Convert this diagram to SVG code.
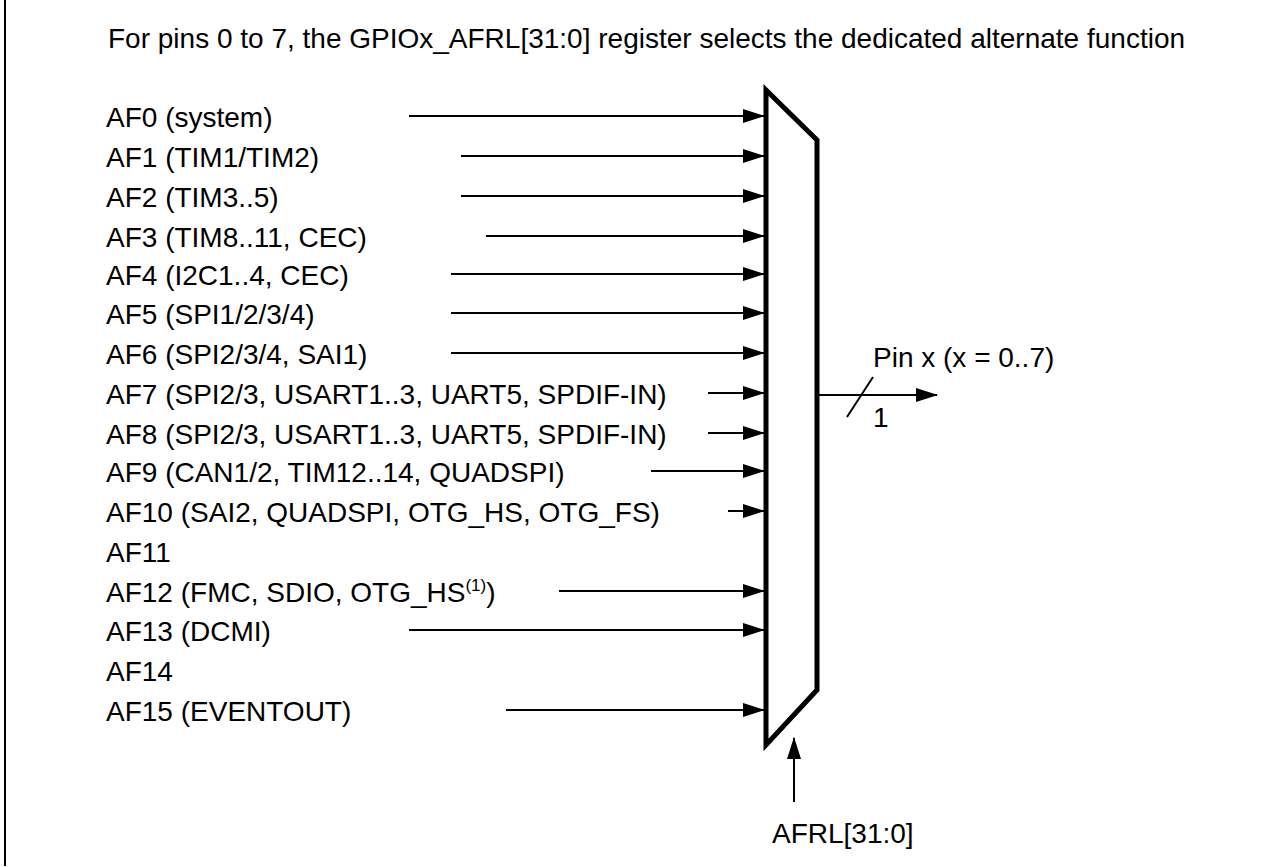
<svg xmlns="http://www.w3.org/2000/svg" width="1261" height="867" viewBox="0 0 1261 867">
<defs>
<marker id="ah" markerWidth="22" markerHeight="14" refX="21" refY="7" orient="auto" markerUnits="userSpaceOnUse"><path d="M0,0 L22,7 L0,14 Z" fill="#000"/></marker>
<style>
text{font-family:"Liberation Sans",Arial,sans-serif;font-size:28px;fill:#000}
.c{stroke:#000;stroke-width:2;fill:none}
</style>
</defs>
<rect width="1261" height="867" fill="#fff"/>
<line x1="5" y1="0" x2="5" y2="866" stroke="#000" stroke-width="2"/>
<text x="108" y="48">For pins 0 to 7, the GPIOx_AFRL[31:0] register selects the dedicated alternate function</text>
<g id="labels">
<text x="106" y="127">AF0 (system)</text>
<text x="106" y="167">AF1 (TIM1/TIM2)</text>
<text x="106" y="207">AF2 (TIM3..5)</text>
<text x="106" y="247">AF3 (TIM8..11, CEC)</text>
<text x="106" y="285">AF4 (I2C1..4, CEC)</text>
<text x="106" y="324">AF5 (SPI1/2/3/4)</text>
<text x="106" y="364">AF6 (SPI2/3/4, SAI1)</text>
<text x="106" y="404">AF7 (SPI2/3, USART1..3, UART5, SPDIF-IN)</text>
<text x="106" y="444">AF8 (SPI2/3, USART1..3, UART5, SPDIF-IN)</text>
<text x="106" y="482">AF9 (CAN1/2, TIM12..14, QUADSPI)</text>
<text x="106" y="522">AF10 (SAI2, QUADSPI, OTG_HS, OTG_FS)</text>
<text x="106" y="562">AF11</text>
<text x="106" y="602">AF12 (FMC, SDIO, OTG_HS<tspan font-size="17" dy="-11">(1)</tspan><tspan dy="11">)</tspan></text>
<text x="106" y="641">AF13 (DCMI)</text>
<text x="106" y="681">AF14</text>
<text x="106" y="721">AF15 (EVENTOUT)</text>
</g>
<g id="mux">
<path d="M766,90 L817,140 L817,690 L766,745 Z" fill="#fff" stroke="#000" stroke-width="5" stroke-linejoin="miter"/>
</g>
<g id="connectors">
<line class="c" x1="409" y1="116" x2="764" y2="116" marker-end="url(#ah)"/>
<line class="c" x1="461" y1="156" x2="764" y2="156" marker-end="url(#ah)"/>
<line class="c" x1="461" y1="196" x2="764" y2="196" marker-end="url(#ah)"/>
<line class="c" x1="486" y1="236" x2="764" y2="236" marker-end="url(#ah)"/>
<line class="c" x1="451" y1="274" x2="764" y2="274" marker-end="url(#ah)"/>
<line class="c" x1="451" y1="313" x2="764" y2="313" marker-end="url(#ah)"/>
<line class="c" x1="451" y1="353" x2="764" y2="353" marker-end="url(#ah)"/>
<line class="c" x1="708" y1="393" x2="764" y2="393" marker-end="url(#ah)"/>
<line class="c" x1="708" y1="433" x2="764" y2="433" marker-end="url(#ah)"/>
<line class="c" x1="651" y1="471" x2="764" y2="471" marker-end="url(#ah)"/>
<line class="c" x1="728" y1="511" x2="764" y2="511" marker-end="url(#ah)"/>
<line class="c" x1="559" y1="591" x2="764" y2="591" marker-end="url(#ah)"/>
<line class="c" x1="409" y1="630" x2="764" y2="630" marker-end="url(#ah)"/>
<line class="c" x1="506" y1="710" x2="764" y2="710" marker-end="url(#ah)"/>
<line class="c" x1="819" y1="395" x2="937" y2="395" marker-end="url(#ah)"/>
<line class="c" x1="847" y1="417" x2="873" y2="377"/>
<line class="c" x1="794" y1="802" x2="794" y2="738" marker-end="url(#ah)"/>
</g>
<g id="output-labels">
<text x="873" y="367">Pin x (x = 0..7)</text>
<text x="873" y="427">1</text>
<text x="772" y="843">AFRL[31:0]</text>
</g>
</svg>
